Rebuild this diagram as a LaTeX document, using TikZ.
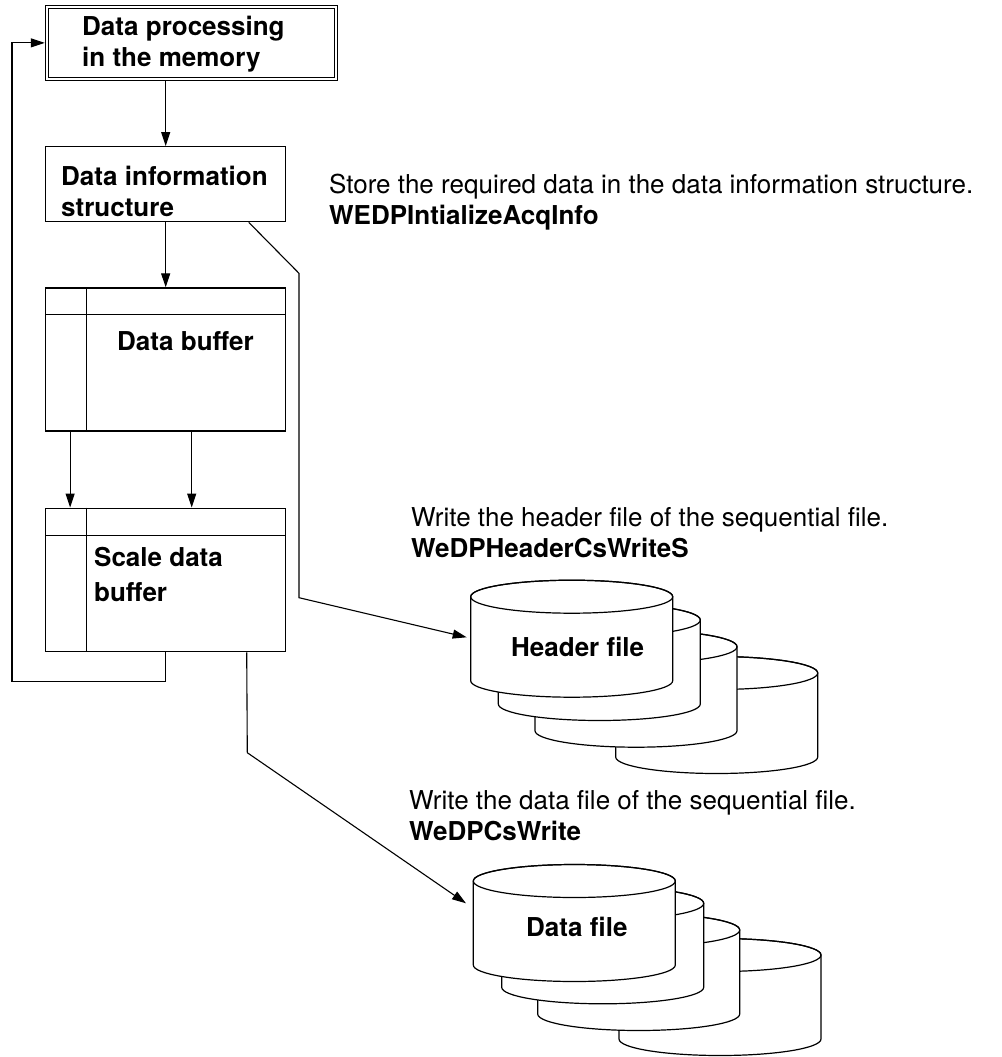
\documentclass[tikz,border=0pt]{standalone}
\usepackage{fontspec}
\setmainfont{TeX Gyre Heros}
\usetikzlibrary{arrows.meta, positioning}

\tikzset{
  box/.style={draw, line width=1.2pt, inner sep=0pt, minimum width=240pt},
  lbl/.style={anchor=base west, align=left, inner sep=0pt, font=\fontsize{26}{31}\selectfont},
  boxlbl/.style={lbl, font=\bfseries\fontsize{26}{31}\selectfont},
  link/.style={line width=1.1pt},
  pics/filedrum/.style={code={
    \filldraw[fill=white, line width=1.2pt] (0,0) -- (0,84)
      arc[start angle=180, end angle=0, x radius=101, y radius=16.5] -- (202,0)
      arc[start angle=0, end angle=-180, x radius=101, y radius=16.5] -- cycle;
    \draw[line width=1.2pt] (101,0) ellipse [x radius=101, y radius=16.5];
  }}
}

\begin{document}
\begin{tikzpicture}[x=1pt, y=-1pt, >={Triangle[length=14pt, width=9pt]}]
  \useasboundingbox (0,0) rectangle (1001,1057);
  % Boxes
  \node[draw, double, double distance=2.6pt, line width=0.9pt, inner sep=0pt, outer sep=2.2pt,
        minimum width=289pt, minimum height=72pt] (mem) at (191.5,42.9) {};
  \node[box, minimum height=75pt] (info) at (165.7,184.2) {};
  \node[box, minimum height=143pt] (buf) at (165.7,359.5) {};
  \node[box, minimum height=143.5pt] (sbuf) at (165.7,579.9) {};
  % Cell lines
  \draw[line width=1.2pt] ([yshift=-27pt]buf.north west) -- ([yshift=-27pt]buf.north east);
  \draw[line width=1.2pt] ([xshift=41.6pt]buf.north west) -- ([xshift=41.6pt]buf.south west);
  \draw[line width=1.2pt] ([yshift=-27.7pt]sbuf.north west) -- ([yshift=-27.7pt]sbuf.north east);
  \draw[line width=1.2pt] ([xshift=41.6pt]sbuf.north west) -- ([xshift=41.6pt]sbuf.south west);
  % Box texts (base = last line)
  \node[boxlbl] (memtxt) at (82,66.7) {Data processing\\in the memory};
  \node[boxlbl] (infotxt) at (61,216) {Data information\\structure};
  \node[boxlbl] (buftxt) at (117,350) {Data buffer};
  \node[boxlbl] (sbuftxt) at (94,601.7) {Scale data\\[4pt]buffer};
  % Notes
  \node[lbl] (note1) at (329,224) {Store the required data in the data information structure.\\\textbf{WEDPIntializeAcqInfo}};
  \node[lbl] (note2) at (411,557) {Write the header file of the sequential file.\\\textbf{WeDPHeaderCsWriteS}};
  \node[lbl] (note3) at (409,840) {Write the data file of the sequential file.\\\textbf{WeDPCsWrite}};
  % Header file stack
  \pic at (615.7,673) {filedrum};
  \pic at (535,646.7) {filedrum};
  \pic at (498.3,620) {filedrum};
  \pic at (470.7,596.7) {filedrum};
  \node[boxlbl] (hdrtxt) at (511,656.7) {Header file};
  % Data file stack
  \pic at (619,955) {filedrum};
  \pic at (537.7,930) {filedrum};
  \pic at (501.7,903.3) {filedrum};
  \pic at (473.3,881) {filedrum};
  \node[boxlbl] (dattxt) at (526,936.7) {Data file};
  % Connectors
  \coordinate (loopc) at (12,681.7);
  \coordinate (hbend1) at (299,273.3);
  \coordinate (hbend2) at (299,597.7);
  \coordinate (hin) at (466.7,637.3);
  \coordinate (dbend) at (247.3,752.7);
  \coordinate (din) at (466,903.3);
  \draw[link,->] (mem.south -| info.north) -- (info.north);
  \draw[link,->] (info.south) -- (buf.north);
  \draw[link,->] ([xshift=25pt]buf.south west) -- ([xshift=25pt]sbuf.north west);
  \draw[link,->] ([xshift=146.6pt]buf.south west) -- ([xshift=146.6pt]sbuf.north west);
  \draw[link,->] ([xshift=120pt]sbuf.south west) |- (loopc) |- (mem.west);
  \draw[link,->] ([xshift=203.6pt]info.south west) -- (hbend1) -- (hbend2) -- (hin);
  \draw[link,->] ([xshift=201.6pt]sbuf.south west) -- (dbend) -- (din);
\end{tikzpicture}
\end{document}
